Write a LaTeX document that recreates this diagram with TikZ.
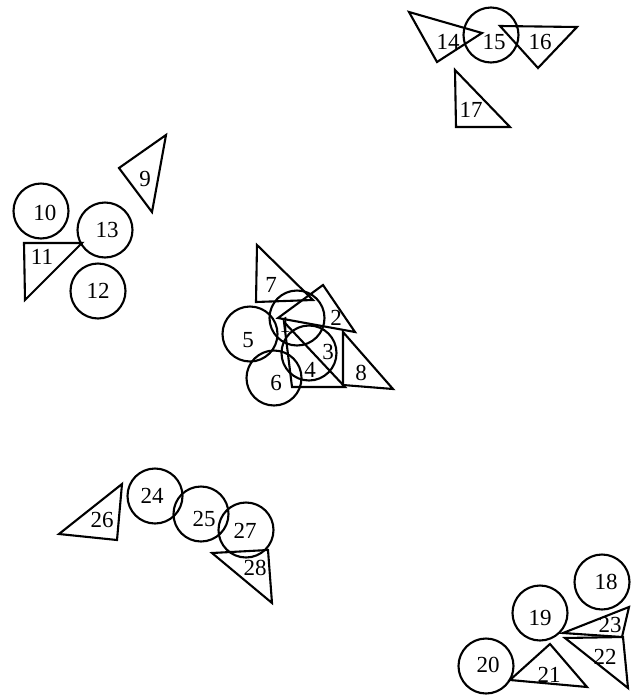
\documentclass[tikz,border=0pt]{standalone}
\usepackage{fontspec}
\setmainfont{Liberation Serif}
\begin{document}
\begin{tikzpicture}[x=1pt,y=-1pt,
  circ/.style={draw,circle,line width=2.1pt,minimum size=55pt,inner sep=0pt},
  tri/.style={draw,line width=2.1pt,line join=miter},
  lab/.style={inner sep=0pt,font=\fontsize{23}{23}\selectfont}]
\useasboundingbox (0,0) rectangle (630,697);
% top cluster
\draw[tri] (409,12) -- (482,33) -- (437,62) -- cycle;
\draw[tri] (500,26) -- (577,27) -- (538,68) -- cycle;
\node[circ] (c15) at (491,35) {};
\node[lab] (l14) at (448,42) {14};
\node[lab] (l15) at (494,42) {15};
\node[lab] (l16) at (540,42) {16};
\draw[tri] (455,70) -- (510,127) -- (456,127) -- cycle;
\node[lab] (l17) at (471,110) {17};
% left cluster
\draw[tri] (119,168) -- (166,135) -- (152,212) -- cycle;
\node[lab] (l9) at (145,179) {9};
\node[circ] (c10) at (41,211) {};
\node[lab] (l10) at (45,213) {10};
\draw[tri] (24,243) -- (82,243) -- (25,300) -- cycle;
\node[lab] (l11) at (42,257) {11};
\node[circ] (c13) at (105,230) {};
\node[lab] (l13) at (107,230) {13};
\node[circ] (c12) at (98,291) {};
\node[lab] (l12) at (98,291) {12};
% center cluster
\draw[tri] (257,245) -- (313,300) -- (256,302) -- cycle;
\node[lab] (l7) at (271,285) {7};
\draw[tri] (323,285) -- (355,332) -- (278,318) -- cycle;
\node[lab] (l2) at (336,318) {2};
\draw[tri] (343,332) -- (393,389) -- (343,385) -- cycle;
\node[lab] (l8) at (361,373) {8};
\draw[tri] (284,322) -- (345,387) -- (292,387) -- cycle;
\node[circ] (c1) at (297,318) {};
\node[lab] (l1) at (285,325) {1};
\node[circ] (c3) at (309,353) {};
\node[lab] (l3) at (328,352) {3};
\node[lab] (l4) at (310,370) {4};
\node[circ] (c5) at (250,334) {};
\node[lab] (l5) at (248,340) {5};
\node[circ] (c6) at (274,378) {};
\node[lab] (l6) at (276,383) {6};
% bottom-left cluster
\draw[tri] (122,484) -- (59,534) -- (117,540) -- cycle;
\node[lab] (l26) at (102,520) {26};
\node[circ] (c24) at (155,496) {};
\node[lab] (l24) at (152,496) {24};
\node[circ] (c25) at (201,514) {};
\node[lab] (l25) at (204,519) {25};
\node[circ] (c27) at (246,530) {};
\node[lab] (l27) at (245,531) {27};
\draw[tri] (212,553) -- (268,550) -- (272,603) -- cycle;
\node[lab] (l28) at (255,568) {28};
% bottom-right cluster
\node[circ] (c18) at (602,582) {};
\node[lab] (l18) at (606,582) {18};
\node[circ] (c19) at (540,613) {};
\node[lab] (l19) at (540,618) {19};
\node[circ] (c20) at (486,666) {};
\node[lab] (l20) at (488,665) {20};
\draw[tri] (550,644) -- (510,680) -- (587,687) -- cycle;
\node[lab] (l21) at (549,675) {21};
\draw[tri] (563,633) -- (629,607) -- (622,637) -- cycle;
\node[lab] (l23) at (610,625) {23};
\draw[tri] (565,638) -- (623,637) -- (628,688) -- cycle;
\node[lab] (l22) at (605,657) {22};
\end{tikzpicture}
\end{document}
